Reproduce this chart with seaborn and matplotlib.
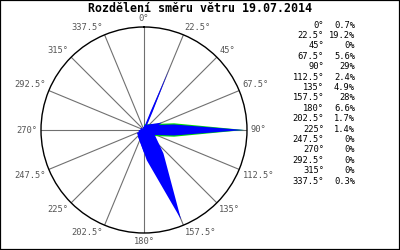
import numpy as np
import matplotlib
matplotlib.use("Agg")
import matplotlib.pyplot as plt
from matplotlib.patches import Rectangle
import seaborn as sns

# ---- data ----
title = "Rozdělení směru větru 19.07.2014"
directions = [0, 22.5, 45, 67.5, 90, 112.5, 135, 157.5,
              180, 202.5, 225, 247.5, 270, 292.5, 315, 337.5]
frequency = [0.7, 19.2, 0, 5.6, 29, 2.4, 4.9, 28,
             6.6, 1.7, 1.4, 0, 0, 0, 0, 0.3]
direction_labels = ["0°", "22.5°", "45°", "67.5°", "90°", "112.5°", "135°", "157.5°",
                    "180°", "202.5°", "225°", "247.5°", "270°", "292.5°", "315°", "337.5°"]
percent_labels = ["0.7%", "19.2%", "0%", "5.6%", "29%", "2.4%", "4.9%", "28%",
                  "6.6%", "1.7%", "1.4%", "0%", "0%", "0%", "0%", "0.3%"]

# ---- style ----
petal_halfwidth_px = [1, 1, 0, 3.5, 5.5, 3.5, 4.5, 9, 6, 3.5, 3.5, 0, 0, 0, 0, 1]
green_extra_px = [0, 0, 0, 0, 1.2, 0, 0, 0, 0, 0, 0, 0, 0, 0, 0, 0]
RMAX = 29.8
RADIUS_PX = 103.0

sns.set_theme(style="white")
plt.rcParams["font.family"] = ["DejaVu Sans Mono", "DejaVu Sans"]

fig = plt.figure(figsize=(4, 2.5), dpi=100, facecolor="white")
ax = fig.add_axes([0.1025, 0.068, 0.515, 0.824], projection="polar")
ax.set_theta_zero_location("N")
ax.set_theta_direction(-1)
ax.set_ylim(0, RMAX)
ax.set_yticks([])
ax.set_xticks(np.deg2rad(directions))
ax.set_xticklabels([])
ax.xaxis.grid(True, color="#707070", lw=0.8)
ax.set_axisbelow(True)
ax.spines["polar"].set_color("black")
ax.spines["polar"].set_linewidth(1.0)
ax.set_facecolor("white")

px2u = RMAX / RADIUS_PX


def petal(theta_deg, r, h):
    h0 = 0.85 * h
    m = 0.3
    pts = [(0, -h0), (m * r, -h), (r, 0), (m * r, h), (0, h0)]
    th, rr = [], []
    for a, p in pts:
        rr.append(np.hypot(a, p))
        th.append(np.deg2rad(theta_deg) + np.arctan2(p, a))
    return th, rr


# green range under the blue
for d, f, w, g in zip(directions, frequency, petal_halfwidth_px, green_extra_px):
    if f > 0 and g > 0:
        th, rr = petal(d, f, (w + g) * px2u)
        ax.fill(th, rr, color="#00e000", lw=0, zorder=2)

for d, f, w in zip(directions, frequency, petal_halfwidth_px):
    if f > 0:
        th, rr = petal(d, f, max(w, 0.8) * px2u)
        ax.fill(th, rr, color="#0000ff", lw=0, zorder=3)

# direction labels around the circle
for d, lab in zip(directions, direction_labels):
    s, c = np.sin(np.deg2rad(d)), np.cos(np.deg2rad(d))
    ha = "left" if s > 0.01 else ("right" if s < -0.01 else "center")
    va = "bottom" if c > 0.01 else ("top" if c < -0.01 else "center")
    ax.text(np.deg2rad(d), RMAX * 1.035, lab, ha=ha, va=va, fontsize=6.3,
            color="#555555", clip_on=False)

# title
fig.text(0.5, 1 - 9 / 250, title, ha="center", va="center", fontsize=8.4,
         fontweight="bold", color="black")

# legend table
for i, (dl, pl) in enumerate(zip(direction_labels, percent_labels)):
    y = 1 - (25 + 10.4 * i) / 250
    fig.text(324 / 400, y, dl, ha="right", va="center", fontsize=6.3, color="black")
    fig.text(355 / 400, y, pl, ha="right", va="center", fontsize=6.3, color="black")

fig.patches.append(Rectangle((0, 0), 1, 1, transform=fig.transFigure, fill=False,
                             ec="black", lw=1.6))

fig.savefig("out.png", dpi=100, facecolor="white")
